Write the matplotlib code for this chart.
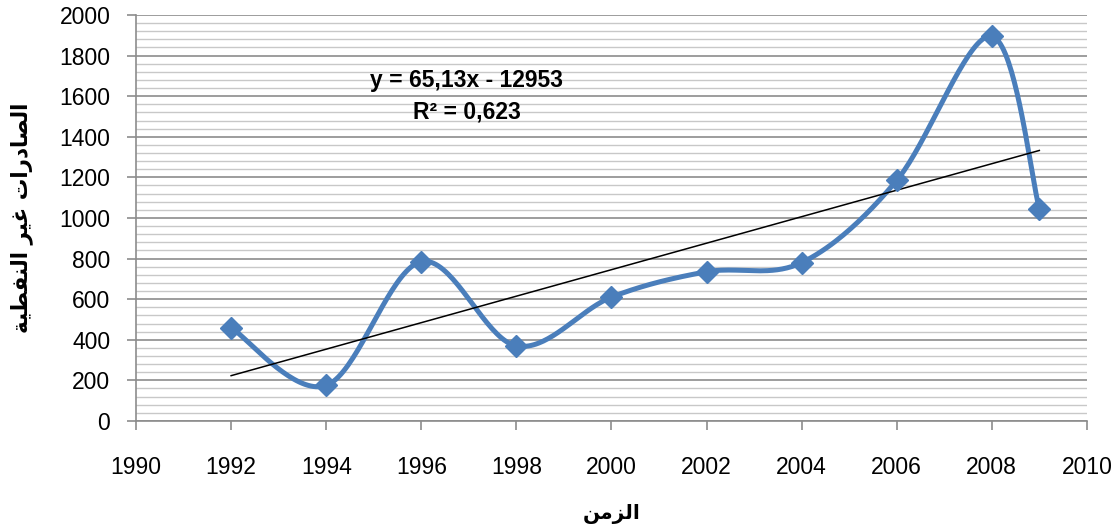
import matplotlib.pyplot as plt
from matplotlib.ticker import MultipleLocator
import numpy as np

years = [1992, 1994, 1996, 1998, 2000, 2002, 2004, 2006, 2008, 2009]
exports = [460, 175, 785, 370, 610, 735, 780, 1185, 1895, 1045]

eq_text = "y = 65,13x - 12953\nR\u00b2 = 0,623"

# Arabic labels, already shaped (presentation forms) and in visual order
x_label = "\ufee6\ufee3\ufeb0\ufedf\ufe8d"  # الزمن
y_label = ("\ufe94\ufef4\ufec4\ufed4\ufee8\ufedf\ufe8d"   # النفطية
           " \ufeae\ufef4\ufecf"                           # غير
           " \ufe95\ufe8d\ufead\ufea9\ufe8e\ufebc\ufedf\ufe8d")  # الصادرات

blue = "#4A7EBB"


def excel_smooth(xs, ys, n=40):
    # bezier spline like the "smoothed line" option of Excel
    pts = np.column_stack([xs, ys]).astype(float)
    out = []
    for i in range(len(pts) - 1):
        p0 = pts[i - 1] if i > 0 else pts[i]
        p1 = pts[i]
        p2 = pts[i + 1]
        p3 = pts[i + 2] if i + 2 < len(pts) else pts[i + 1]
        c1 = p1 + (p2 - p0) / 6
        c2 = p2 - (p3 - p1) / 6
        t = np.linspace(0, 1, n)[:, None]
        seg = ((1 - t) ** 3) * p1 + 3 * ((1 - t) ** 2) * t * c1 + 3 * (1 - t) * t ** 2 * c2 + t ** 3 * p2
        out.append(seg)
    out = np.vstack(out)
    return out[:, 0], out[:, 1]


fig = plt.figure(figsize=(11.16, 5.31), dpi=100)
ax = fig.add_axes([0.1219, 0.2072, 0.852, 0.7646])

ax.set_xlim(1990, 2010)
ax.set_ylim(0, 2000)
ax.xaxis.set_major_locator(MultipleLocator(2))
ax.yaxis.set_major_locator(MultipleLocator(200))
ax.yaxis.set_minor_locator(MultipleLocator(40))

ax.grid(which="minor", axis="y", color="#C8C8C8", linewidth=1.0)
ax.grid(which="major", axis="y", color="#8C8C8C", linewidth=1.2)
ax.set_axisbelow(True)

for s in ["top", "right"]:
    ax.spines[s].set_visible(False)
for s in ["left", "bottom"]:
    ax.spines[s].set_color("#8C8C8C")
    ax.spines[s].set_linewidth(1.2)

ax.tick_params(which="major", length=6.5, width=1.2, color="#8C8C8C",
               labelsize=16.5)
ax.tick_params(axis="y", pad=12)
ax.tick_params(axis="x", pad=19)
ax.tick_params(which="minor", length=0)
for lab in ax.get_xticklabels() + ax.get_yticklabels():
    lab.set_fontfamily("Liberation Sans")

# smoothed series
sx, sy = excel_smooth(years, exports)
ax.plot(sx, sy, color=blue, linewidth=3.6, solid_capstyle="round", zorder=3)
ax.plot(years, exports, linestyle="none", marker="D", markersize=11.5,
        color=blue, zorder=4)

# linear trend line
k, b = np.polyfit(years, exports, 1)
tx = np.array([years[0], years[-1]])
ax.plot(tx, k * tx + b, color="black", linewidth=1.1, zorder=3)

ax.text(1996.95, 1600, eq_text, ha="center", va="center", fontsize=16.5,
        fontweight="bold", family="Liberation Sans", linespacing=1.45)

ax.set_xlabel(x_label, fontsize=14.5, fontweight="bold", family="DejaVu Sans")
ax.set_ylabel(y_label, fontsize=15.5, fontweight="bold", family="DejaVu Sans")
ax.xaxis.set_label_coords(0.5, -0.205)
ax.yaxis.set_label_coords(-0.108, 0.5)

fig.savefig("out.png", dpi=100)
